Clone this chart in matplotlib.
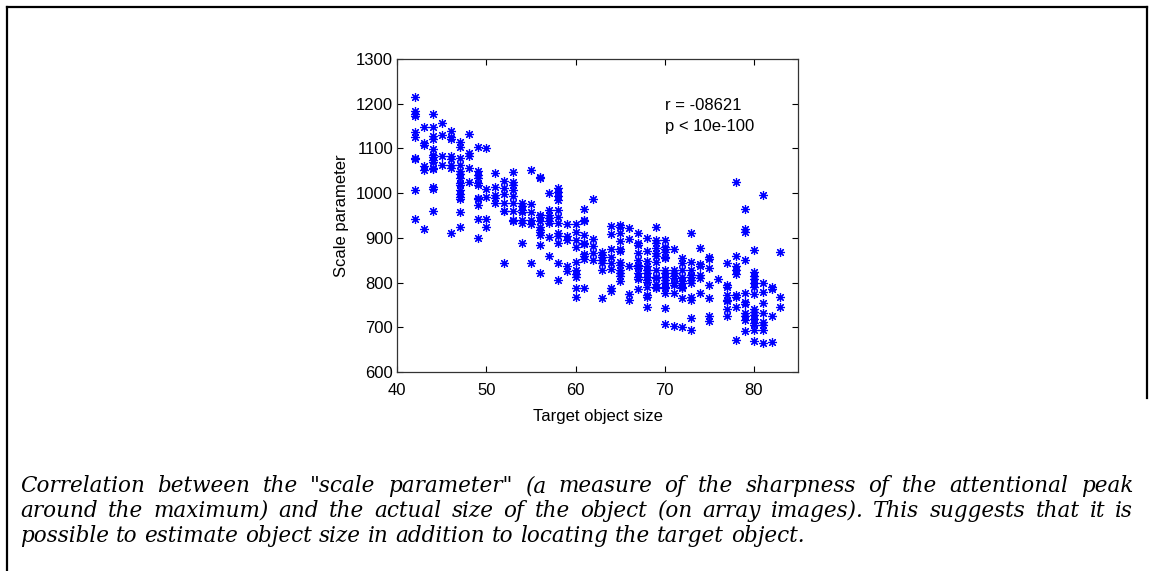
import matplotlib
matplotlib.use("Agg")
import matplotlib.pyplot as plt
from matplotlib.lines import Line2D

# scatter data: target object size -> scale parameter values read per column
sizes = list(range(42, 84))
scale_by_size = {
    42: [1214, 1184, 1177, 1172, 1136, 1125, 1079, 1076, 1008, 942],
    43: [1147, 1112, 1107, 1060, 1051, 919],
    44: [1177, 1149, 1128, 1120, 1098, 1086, 1080, 1074, 1070, 1057, 1054, 1013, 1009, 959],
    45: [1156, 1130, 1082, 1062],
    46: [1139, 1125, 1120, 1082, 1076, 1062, 1057, 911],
    47: [1115, 1103, 1078, 1064, 1050, 1043, 1034, 1022, 1018, 1008, 997, 992, 988, 958, 924],
    48: [1132, 1090, 1082, 1056, 1026],
    49: [1104, 1049, 1041, 1034, 1023, 1019, 990, 986, 973, 942, 900],
    50: [1100, 1010, 991, 942, 925],
    51: [1045, 1014, 996, 990, 978],
    52: [1027, 1011, 999, 978, 961, 959, 843],
    53: [1047, 1024, 1019, 1008, 993, 977, 959, 940, 937],
    54: [977, 972, 962, 957, 940, 933, 888],
    55: [1051, 975, 958, 941, 930, 843],
    56: [1036, 1033, 951, 946, 937, 925, 918, 912, 906, 884, 821],
    57: [1001, 963, 952, 944, 938, 933, 901, 860],
    58: [1012, 1003, 993, 985, 962, 947, 933, 910, 905, 889, 844, 805],
    59: [932, 904, 896, 838, 826],
    60: [932, 914, 896, 880, 847, 827, 820, 813, 787, 767],
    61: [965, 940, 938, 906, 889, 886, 865, 859, 852, 788],
    62: [988, 897, 882, 866, 850],
    63: [868, 862, 857, 850, 843, 828, 766],
    64: [927, 908, 874, 858, 843, 830, 787, 782],
    65: [928, 924, 910, 892, 874, 870, 847, 840, 829, 821, 814, 803],
    66: [922, 897, 836, 775, 760],
    67: [911, 888, 884, 866, 851, 840, 836, 832, 821, 813, 807, 786],
    68: [899, 871, 849, 838, 829, 821, 813, 806, 802, 791, 772, 768, 746],
    69: [925, 895, 888, 878, 866, 859, 847, 828, 813, 810, 797, 791, 787],
    70: [896, 880, 874, 869, 858, 854, 829, 822, 812, 806, 799, 791, 787, 776, 744, 707],
    71: [874, 828, 821, 815, 810, 800, 795, 776, 703],
    72: [854, 844, 829, 812, 803, 799, 791, 787, 765, 701],
    73: [910, 847, 829, 818, 812, 805, 800, 768, 762, 720, 693],
    74: [877, 842, 836, 818, 810, 776],
    75: [857, 852, 832, 795, 765, 725, 713],
    76: [807],
    77: [843, 795, 789, 773, 762, 758, 742, 725],
    78: [1026, 859, 836, 827, 819, 772, 768, 746, 672],
    79: [965, 920, 914, 851, 777, 757, 751, 731, 726, 716, 692],
    80: [873, 824, 815, 807, 800, 789, 774, 742, 735, 727, 719, 709, 705, 695, 669],
    81: [995, 800, 779, 754, 731, 712, 706, 695, 664],
    82: [789, 785, 726, 666],
    83: [868, 768, 745],
}

x_ticks = [40, 50, 60, 70, 80]
y_ticks = [600, 700, 800, 900, 1000, 1100, 1200, 1300]

caption_lines = [
    'Correlation between the "scale parameter" (a measure of the sharpness of the attentional peak',
    'around the maximum) and the actual size of the object (on array images). This suggests that it is',
    'possible to estimate object size in addition to locating the target object.',
]

xs, ys = [], []
for s in sizes:
    for v in scale_by_size[s]:
        xs.append(s)
        ys.append(v)

W, H = 1152, 571
fig = plt.figure(figsize=(W / 100, H / 100), dpi=100)
plt.rcParams["font.family"] = ["Liberation Sans", "DejaVu Sans"]

ax = fig.add_axes([397.3 / W, 1 - 372 / H, 401 / W, 313 / H])
ax.plot(xs, ys, linestyle="none", marker=(8, 2, 0), markersize=6.5,
        markeredgewidth=0.85, color="#0000ff")
ax.set_xlim(40, 85)
ax.set_ylim(600, 1300)
ax.set_xticks(x_ticks)
ax.set_yticks(y_ticks)
ax.tick_params(direction="in", length=4, width=0.8, top=True, right=True,
               labelsize=12, colors="black", pad=3)
ax.tick_params(axis="x", pad=8)
for sp in ax.spines.values():
    sp.set_linewidth(0.9)
    sp.set_color("#333333")
ax.set_xlabel("Target object size", fontsize=12, labelpad=8)
ax.set_ylabel("Scale parameter", fontsize=12, labelpad=5)
ax.text(70, 1196, "r = -08621", fontsize=12, va="center", ha="left")
ax.text(70, 1149, "p < 10e-100", fontsize=12, va="center", ha="left")

# frame around the document block
fig.add_artist(Line2D([7 / W, 7 / W], [0, 1 - 7 / H], transform=fig.transFigure,
                      color="black", linewidth=1.6))
fig.add_artist(Line2D([7 / W, 1147 / W], [1 - 7 / H, 1 - 7 / H], transform=fig.transFigure,
                      color="black", linewidth=1.6))
fig.add_artist(Line2D([1147 / W, 1147 / W], [1 - 7 / H, 1 - 398 / H], transform=fig.transFigure,
                      color="black", linewidth=1.6))

# caption, first two lines justified
renderer = fig.canvas.get_renderer()
left, right = 20, 1133
baselines = [492, 517, 542]
cap_font = dict(family="DejaVu Serif", style="italic", fontsize=15.5)
t1 = fig.text(0, 0, "a b", **cap_font)
t2 = fig.text(0, 0, "ab", **cap_font)
sp_w = t1.get_window_extent(renderer).width - t2.get_window_extent(renderer).width
t1.remove()
t2.remove()
for i, line in enumerate(caption_lines):
    words = line.split(" ")
    texts = [fig.text(0, 1 - baselines[i] / H, w, va="baseline", ha="left", **cap_font)
             for w in words]
    widths = [t.get_window_extent(renderer).width for t in texts]
    if i < len(caption_lines) - 1:
        gap = (right - left - sum(widths)) / (len(words) - 1)
    else:
        gap = sp_w
    x = left
    for t, w in zip(texts, widths):
        t.set_x(x / W)
        x += w + gap

fig.savefig("out.png", dpi=100, facecolor="white")
